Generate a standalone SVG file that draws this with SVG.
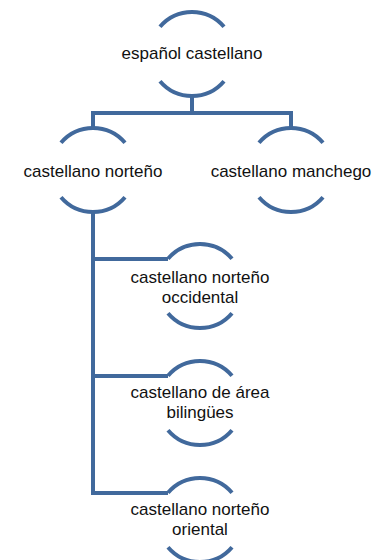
<svg xmlns="http://www.w3.org/2000/svg" width="372" height="560" viewBox="0 0 372 560">
<style>
.arc{fill:none;stroke:#41699c;stroke-width:4;stroke-linecap:butt}
.con{fill:none;stroke:#41699c;stroke-width:4;stroke-linejoin:miter;stroke-linecap:butt}
text{font-family:"Liberation Sans",Arial,sans-serif;font-size:17px;fill:#111;text-anchor:middle}
</style>
<rect width="372" height="560" fill="#fff"/>
<g id="connectors">
<path class="con" d="M192 96 V113 M93 128 V113 H291 V128"/>
<path class="con" d="M93 212 V493 H168 M93 259 H168 M93 376 H168"/>
</g>
<g id="n-espanol">
<path class="arc" d="M160 26.8 A42 42 0 0 1 224 26.8"/>
<path class="arc" d="M160 81.2 A42 42 0 0 0 224 81.2"/>
<text x="192" y="59">español castellano</text>
</g>
<g id="n-norteno">
<path class="arc" d="M61 142.8 A42 42 0 0 1 125 142.8"/>
<path class="arc" d="M61 197.2 A42 42 0 0 0 125 197.2"/>
<text x="93" y="177">castellano norteño</text>
</g>
<g id="n-manchego">
<path class="arc" d="M259 142.8 A42 42 0 0 1 323 142.8"/>
<path class="arc" d="M259 197.2 A42 42 0 0 0 323 197.2"/>
<text x="291" y="177">castellano manchego</text>
</g>
<g id="n-occidental">
<path class="arc" d="M168 258.8 A42 42 0 0 1 232 258.8"/>
<path class="arc" d="M168 313.2 A42 42 0 0 0 232 313.2"/>
<text x="200" y="283">castellano norteño</text>
<text x="200" y="303">occidental</text>
</g>
<g id="n-bilingues">
<path class="arc" d="M168 375.8 A42 42 0 0 1 232 375.8"/>
<path class="arc" d="M168 430.2 A42 42 0 0 0 232 430.2"/>
<text x="200" y="398">castellano de área</text>
<text x="200" y="418">bilingües</text>
</g>
<g id="n-oriental">
<path class="arc" d="M168 492.8 A42 42 0 0 1 232 492.8"/>
<path class="arc" d="M168 547.2 A42 42 0 0 0 232 547.2"/>
<text x="200" y="515">castellano norteño</text>
<text x="200" y="535">oriental</text>
</g>
</svg>
